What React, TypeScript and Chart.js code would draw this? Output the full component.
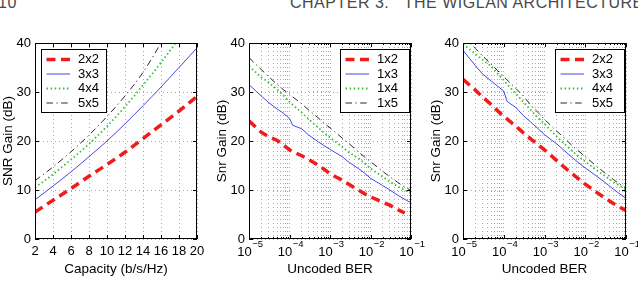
import React, { useEffect, useRef } from "react";
import { Chart, registerables } from "chart.js";
Chart.register(...registerables);

// ---------- data ----------
const capacity = [2, 4, 6, 8, 10, 12, 14, 16, 18, 20];
const cap2x2 = [5.5, 7.9, 10.3, 12.8, 15.2, 17.7, 20.5, 23.3, 26.1, 29.1];
const cap3x3 = [8.0, 10.8, 13.7, 16.8, 20.0, 23.5, 27.2, 31.0, 35.0, 39.0];
const cap4x4 = [10.5, 13.2, 16.2, 19.4, 23.0, 27.0, 31.4, 36.0, 41.0, 46.5];
const cap5x5 = [11.9, 14.7, 17.8, 21.2, 25.0, 29.2, 34.0, 40.0, 46.5, 53.0];

const ber = [1e-5, 2e-5, 3e-5, 5e-5, 7e-5, 1e-4, 1.2e-4, 2e-4, 3e-4, 5e-4, 7e-4,
  1e-3, 2e-3, 3e-3, 5e-3, 7e-3, 1e-2, 2e-2, 3e-2, 5e-2, 7e-2, 1e-1];

const rx1x2 = [24.1, 21.8, 20.9, 20.1, 19.2, 18.2, 17.8, 17.0, 16.2, 15.1, 14.3,
  13.3, 12.0, 11.1, 10.0, 9.3, 8.6, 7.5, 6.9, 5.9, 5.3, null];
const rx1x3 = [31.5, 29.2, 27.9, 26.5, 25.7, 24.6, 23.2, 22.5, 21.2, 19.9, 19.1,
  18.3, 16.8, 15.6, 14.4, 13.5, 12.4, 10.9, 10.0, 8.8, 8.1, 7.4];
const rx1x4 = [35.3, 33.0, 32.0, 30.5, 29.3, 28.0, 27.4, 25.8, 24.4, 22.8, 21.7,
  20.7, 18.8, 17.6, 16.5, 15.5, 14.4, 12.7, 11.7, 10.6, 10.0, 9.3];
const rx1x5 = [37.0, 34.6, 33.2, 31.5, 30.5, 29.6, 29.0, 27.6, 26.3, 24.8, 23.7,
  22.7, 20.6, 19.4, 17.8, 16.8, 15.8, 13.8, 12.7, 11.4, 10.6, 9.9];

const mimo2x2 = [32.6, 30.4, 29.0, 27.4, 26.2, 25.0, 24.5, 23.0, 21.7, 20.2, 19.2,
  18.2, 16.0, 14.7, 13.2, 12.2, 11.2, 9.4, 8.4, 7.2, 6.5, 5.8];
const mimo3x3 = [38.5, 35.4, 33.7, 32.2, 31.2, 30.2, 28.1, 26.8, 25.2, 23.6, 22.5,
  21.3, 19.4, 18.1, 16.5, 15.5, 14.5, 12.7, 11.6, 10.1, 9.2, 8.3];
const mimo4x4 = [39.8, 37.8, 36.6, 35.2, 33.8, 32.4, 31.6, 29.6, 28.0, 26.0, 24.7,
  23.5, 20.9, 19.5, 17.8, 16.8, 15.8, 13.9, 12.9, 11.6, 10.9, 10.1];
const mimo5x5 = [41.3, 38.9, 37.4, 35.6, 34.4, 33.1, 32.5, 30.7, 29.2, 27.0, 25.8,
  24.4, 22.0, 20.7, 18.9, 17.9, 16.8, 14.7, 13.5, 12.1, 11.2, 10.4];

const gainTicks = [0, 10, 20, 30, 40];
const berDecades = [1e-5, 1e-4, 1e-3, 1e-2, 1e-1];
const berExponents = ["\u22125", "\u22124", "\u22123", "\u22122", "\u22121"];
const berGrid: number[] = [];
for (let d = 0; d < 4; d++) for (let m = 1; m < 10; m++) berGrid.push(m * berDecades[d]);
berGrid.push(berDecades[4]);

// ---------- styles ----------
const FAMILY = '"Liberation Sans", Arial, Helvetica, sans-serif';
const styles = [
  { color: "#f01c1c", width: 3.5, dash: [9, 5.5] },
  { color: "#4646e6", width: 1, dash: [] as number[] },
  { color: "#36c036", width: 1.8, dash: [1.5, 2.6] },
  { color: "#2a2a2a", width: 1, dash: [6.5, 3.5, 1.2, 3.5] },
];
const GRID = "#a8a8a8";

function mkDatasets(labels: string[], xs: number[], series: (number | null)[][], smooth: boolean) {
  return series.map((s, i) => ({
    label: labels[i],
    data: xs.map((x, j) => ({ x, y: s[j] })),
    borderColor: styles[i].color,
    borderWidth: styles[i].width,
    borderDash: styles[i].dash,
    borderCapStyle: "butt",
    pointRadius: 0,
    fill: false,
    clip: 0,
    tension: 0,
    cubicInterpolationMode: smooth ? "monotone" : "default",
  }));
}

const matlabPlugin = {
  id: "matlab",
  afterDraw(chart: any, _args: any, opts: any) {
    const { ctx, chartArea: a } = chart;
    const xs = chart.scales.x;
    const ys = chart.scales.y;
    ctx.save();
    ctx.setLineDash([]);
    ctx.strokeStyle = "#000";
    ctx.lineWidth = 1;
    ctx.beginPath();
    for (const t of ys.ticks) {
      const py = Math.round(ys.getPixelForValue(t.value)) + 0.5;
      ctx.moveTo(a.left, py); ctx.lineTo(a.left + 4, py);
      ctx.moveTo(a.right, py); ctx.lineTo(a.right - 4, py);
    }
    for (const t of xs.ticks) {
      const major = opts.log ? berDecades.some((d) => Math.abs(d - t.value) / d < 1e-6) : true;
      const len = major ? 4 : 2;
      const px = Math.round(xs.getPixelForValue(t.value)) + 0.5;
      ctx.moveTo(px, a.bottom); ctx.lineTo(px, a.bottom - len);
      ctx.moveTo(px, a.top); ctx.lineTo(px, a.top + len);
    }
    ctx.stroke();
    ctx.strokeRect(a.left + 0.5, a.top + 0.5, a.right - a.left - 1, a.bottom - a.top - 1);

    // log tick labels with superscript exponents
    if (opts.log) {
      ctx.fillStyle = "#000";
      ctx.textBaseline = "middle";
      ctx.textAlign = "left";
      berDecades.forEach((d, i) => {
        const px = xs.getPixelForValue(d);
        ctx.font = `13px ${FAMILY}`;
        const w1 = ctx.measureText("10").width;
        ctx.font = `9.5px ${FAMILY}`;
        const w2 = ctx.measureText(berExponents[i]).width;
        const x0 = px - (w1 + w2) / 2 + 1;
        ctx.font = `13px ${FAMILY}`;
        ctx.fillText("10", x0, 252);
        ctx.font = `9.5px ${FAMILY}`;
        ctx.fillText(berExponents[i], x0 + w1 + 0.5, 244);
      });
    }

    // legend box
    const L = opts.legend;
    const bx = L.anchor === "left" ? a.left + L.dx : a.right - L.dx;
    const by = a.top + L.dy;
    ctx.fillStyle = "#fff";
    ctx.fillRect(bx, by, L.w, L.h);
    ctx.strokeStyle = "#000";
    ctx.lineWidth = 1;
    ctx.strokeRect(Math.round(bx) + 0.5, Math.round(by) + 0.5, L.w - 1, L.h - 1);
    chart.data.datasets.forEach((ds: any, i: number) => {
      const yy = by + L.rows[i];
      ctx.save();
      ctx.strokeStyle = ds.borderColor;
      ctx.lineWidth = ds.borderWidth;
      ctx.setLineDash(ds.borderDash || []);
      ctx.lineCap = "butt";
      ctx.beginPath();
      ctx.moveTo(bx + 5.5, yy);
      ctx.lineTo(bx + 29, yy);
      ctx.stroke();
      ctx.restore();
      ctx.fillStyle = "#000";
      ctx.font = `13px ${FAMILY}`;
      ctx.textBaseline = "middle";
      ctx.textAlign = "left";
      ctx.fillText(ds.label, bx + 37, yy);
    });
    ctx.restore();
  },
};

function makeConfig(kind: "cap" | "ber", datasets: any[], yTitle: string, xTitle: string, legend: any, padRight: number) {
  const tickFont = { family: FAMILY, size: 13 };
  const titleFont = { family: FAMILY, size: 13.5 };
  const gridCommon = { color: GRID, lineWidth: 1, drawTicks: false, borderDash: [1, 3] };
  const borderCommon = { display: false, dash: [1, 3] };
  const x: any = kind === "cap"
    ? {
        type: "linear", min: 2, max: 20,
        afterBuildTicks: (s: any) => { s.ticks = capacity.map((v) => ({ value: v })); },
        ticks: { font: tickFont, color: "#000", padding: 4.5, maxRotation: 0, autoSkip: false },
      }
    : {
        type: "logarithmic", min: 1e-5, max: 1e-1,
        afterBuildTicks: (s: any) => { s.ticks = berGrid.map((v) => ({ value: v })); },
        ticks: { display: false },
      };
  Object.assign(x, {
    afterFit: (s: any) => { s.height = 43; },
    grid: gridCommon,
    border: borderCommon,
    title: { display: true, text: xTitle, font: titleFont, color: "#000", padding: { top: 0, bottom: 5 } },
  });
  return {
    type: "line",
    data: { datasets },
    options: {
      animation: false,
      responsive: false,
      devicePixelRatio: 1,
      layout: { padding: { left: 0, right: padRight, top: 43, bottom: 0 } },
      plugins: {
        legend: { display: false },
        tooltip: { enabled: false },
        matlab: { log: kind === "ber", legend },
      },
      scales: {
        x,
        y: {
          type: "linear", min: 0, max: 40,
          afterBuildTicks: (s: any) => { s.ticks = gainTicks.map((v) => ({ value: v })); },
          afterFit: (s: any) => { s.width = 35; },
          ticks: { font: tickFont, color: "#000", padding: 4 },
          grid: gridCommon,
          border: borderCommon,
          title: { display: true, text: yTitle, font: titleFont, color: "#000", padding: { top: 0, bottom: 0 } },
        },
      },
    },
    plugins: [matlabPlugin],
  } as any;
}

const legendRows = [11, 25.5, 40, 54.5];

function ChartCanvas({ config, left, width }: { config: any; left: number; width: number }) {
  const ref = useRef<HTMLCanvasElement | null>(null);
  useEffect(() => {
    if (!ref.current) return;
    const c = new Chart(ref.current, config);
    return () => c.destroy();
  }, [config]);
  return (
    <canvas
      ref={ref}
      width={width}
      height={282}
      style={{ position: "absolute", left, top: 0, width, height: 282, display: "block" }}
    />
  );
}

const cfg1 = makeConfig(
  "cap",
  mkDatasets(["2x2", "3x3", "4x4", "5x5"], capacity, [cap2x2, cap3x3, cap4x4, cap5x5], true),
  "SNR Gain (dB)", "Capacity (b/s/Hz)",
  { anchor: "left", dx: 6, dy: 5.5, w: 66, h: 64, rows: legendRows }, 17
);
const cfg2 = makeConfig(
  "ber",
  mkDatasets(["1x2", "1x3", "1x4", "1x5"], ber, [rx1x2, rx1x3, rx1x4, rx1x5], false),
  "Snr Gain (dB)", "Uncoded BER",
  { anchor: "right", dx: 71, dy: 5.5, w: 70, h: 64, rows: legendRows }, 17
);
const cfg3 = makeConfig(
  "ber",
  mkDatasets(["2x2", "3x3", "4x4", "5x5"], ber, [mimo2x2, mimo3x3, mimo4x4, mimo5x5], false),
  "Snr Gain (dB)", "Uncoded BER",
  { anchor: "right", dx: 71, dy: 5.5, w: 70, h: 64, rows: legendRows }, 12
);

export default function App() {
  const header: React.CSSProperties = {
    position: "absolute", top: -5, fontFamily: FAMILY, fontSize: 16, lineHeight: "16px",
    color: "#4a4a4a", whiteSpace: "pre", letterSpacing: 0.5,
  };
  return (
    <div style={{ position: "fixed", left: 0, top: 0, width: 638, height: 282, background: "#fff", overflow: "hidden" }}>
      <div style={{ ...header, left: -2 }}>10</div>
      <div style={{ ...header, left: 290 }}>{"CHAPTER 3.   THE WIGLAN ARCHITECTURE"}</div>
      <ChartCanvas config={cfg1} left={0} width={214} />
      <ChartCanvas config={cfg2} left={214} width={214} />
      <ChartCanvas config={cfg3} left={428} width={210} />
    </div>
  );
}
